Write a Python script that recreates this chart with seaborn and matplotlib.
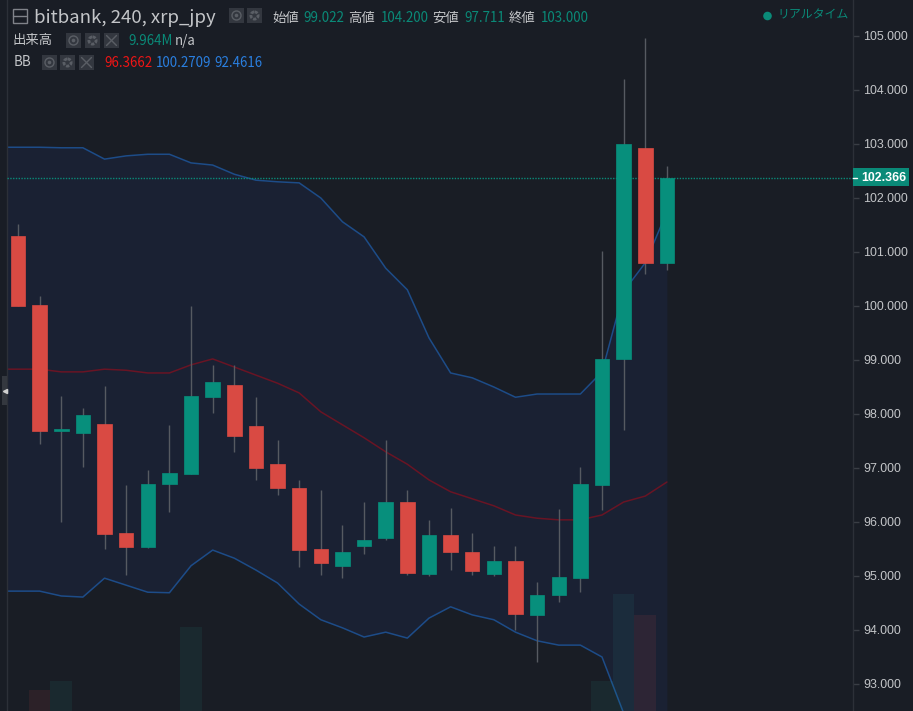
import numpy as np
import pandas as pd
import seaborn as sns
import matplotlib.pyplot as plt
from matplotlib.patches import Rectangle, Circle

# candles
opens = [101.30, 100.02, 97.69, 97.65, 97.81, 95.80, 95.54, 96.70, 96.89, 98.31, 98.54,
         97.78, 97.07, 96.63, 95.50, 95.19, 95.56, 95.70, 96.37, 95.04, 95.76, 95.44,
         95.04, 95.28, 94.28, 94.65, 94.96, 96.69, 99.022, 102.93, 100.80]
closes = [100.00, 97.69, 97.71, 97.98, 95.78, 95.54, 96.70, 96.91, 98.33, 98.59, 97.59,
          97.00, 96.63, 95.48, 95.24, 95.44, 95.67, 96.37, 95.06, 95.76, 95.44, 95.09,
          95.28, 94.30, 94.65, 94.98, 96.70, 99.02, 103.00, 100.80, 102.366]
highs = [101.52, 100.19, 98.33, 98.11, 98.52, 96.69, 96.96, 97.80, 100.00, 98.91, 98.91,
         98.31, 97.52, 96.78, 96.59, 95.94, 96.37, 97.52, 96.59, 96.04, 96.26, 95.80,
         95.56, 95.56, 94.89, 96.24, 97.02, 101.02, 104.20, 104.96, 102.60]
lows = [100.00, 97.44, 96.00, 97.02, 95.50, 95.02, 95.52, 96.19, 96.89, 98.02, 97.30,
        96.78, 96.50, 95.17, 95.02, 94.96, 95.41, 95.67, 95.02, 95.00, 95.11, 95.02,
        95.00, 94.00, 93.41, 94.52, 94.70, 96.22, 97.711, 100.60, 100.67]

# bollinger bands, first point sits left of the visible area
bb_index = list(range(-1, 31))
bb_upper = [102.94, 102.94, 102.94, 102.93, 102.93, 102.72, 102.78, 102.81, 102.81, 102.65, 102.61,
            102.44, 102.33, 102.30, 102.28, 102.00, 101.56, 101.28, 100.70, 100.30, 99.41, 98.76,
            98.67, 98.50, 98.31, 98.37, 98.37, 98.37, 98.78, 100.27, 100.80, 101.74]
bb_mid = [98.83, 98.83, 98.83, 98.78, 98.78, 98.83, 98.81, 98.76, 98.76, 98.91, 99.02,
          98.87, 98.72, 98.57, 98.39, 98.04, 97.80, 97.56, 97.30, 97.07, 96.78, 96.56,
          96.43, 96.30, 96.13, 96.07, 96.04, 96.04, 96.13, 96.37, 96.48, 96.74]
bb_lower = [94.72, 94.72, 94.72, 94.63, 94.61, 94.96, 94.83, 94.70, 94.69, 95.19, 95.48,
            95.33, 95.11, 94.87, 94.48, 94.19, 94.04, 93.87, 93.96, 93.85, 94.22, 94.43,
            94.28, 94.19, 93.96, 93.80, 93.72, 93.72, 93.50, 92.46, 92.16, 91.74]

# only the volume bars that reach into the picture
vol_index = [1, 2, 8, 27, 28, 29]
vol_values = [3.87, 4.44, 7.87, 4.44, 9.964, 8.63]
vol_dir = ["down", "up", "up", "up", "up", "down"]

price_ticks = [93, 94, 95, 96, 97, 98, 99, 100, 101, 102, 103, 104, 105]
last_price = 102.366

BG = "#191d25"
BAND = "#1a2133"
GREEN = "#078f7c"
RED = "#d94a43"
WICK = "#565a61"
BLUE_LINE = "#1d4c88"
RED_LINE = "#691424"
GREY = "#c3c5c8"
TEAL = "#0a8a78"
ICON = "#33373f"

sns.set_theme(style="dark")
plt.rcParams["font.family"] = ["Noto Sans CJK JP", "DejaVu Sans"]

candles = pd.DataFrame({"open": opens, "close": closes, "high": highs, "low": lows})
candles["x"] = candles.index
bands = pd.DataFrame({"x": bb_index, "upper": bb_upper, "mid": bb_mid, "lower": bb_lower})
volume = pd.DataFrame({"x": vol_index, "vol": vol_values, "dir": vol_dir})

fig = plt.figure(figsize=(9.13, 7.11), dpi=100, facecolor=BG)
ax = fig.add_axes([7 / 913, 0, 846 / 913, 1], facecolor=BG)

ax.fill_between(bands["x"], bands["lower"], bands["upper"], color=BAND, lw=0, zorder=1)
sns.lineplot(data=bands, x="x", y="upper", color=BLUE_LINE, lw=1.1, ax=ax, zorder=2)
sns.lineplot(data=bands, x="x", y="lower", color=BLUE_LINE, lw=1.1, ax=ax, zorder=2)
sns.lineplot(data=bands, x="x", y="mid", color=RED_LINE, lw=1.1, ax=ax, zorder=2)

ax.axhline(last_price, color=TEAL, lw=1, ls=(0, (1, 1)), zorder=3)

colors = [GREEN if c >= o else RED for o, c in zip(candles["open"], candles["close"])]
ax.vlines(candles["x"], candles["low"], candles["high"], color=WICK, lw=1, zorder=4)
body_low = candles[["open", "close"]].min(axis=1)
body_h = (candles["close"] - candles["open"]).abs().clip(lower=0.04)
ax.bar(candles["x"], body_h, bottom=body_low, width=0.67, color=colors, edgecolor=colors,
       lw=0.5, zorder=5)

ax.set_xlim((7 - 18) / 21.63, (853 - 18) / 21.63)
ax.set_ylim(105 - 675 / 54, 105 + 36 / 54)

# volume sits on its own scale, its baseline is below the picture
vol_ax = ax.twinx()
sns.barplot(data=volume, x="x", y="vol", hue="dir", palette={"up": "#26a69a", "down": "#ef5350"},
            native_scale=True, dodge=False, width=1, errorbar=None, alpha=0.09, legend=False,
            saturation=1, linewidth=0, edgecolor="none", ax=vol_ax)
vol_ax.set_xlim(ax.get_xlim())
vol_ax.set_ylim(2.54, 2.54 + 711 * 0.0635)
vol_ax.set_yticks([])
vol_ax.set_xticks([])
vol_ax.set_xlabel("")
vol_ax.set_ylabel("")
vol_ax.patch.set_visible(False)
for sp in vol_ax.spines.values():
    sp.set_visible(False)

# twinx moves the ticks back to the left, so set them up afterwards
ax.set_xticks([])
ax.set_xlabel("")
ax.set_ylabel("")
ax.yaxis.tick_right()
ax.set_yticks(price_ticks)
ax.set_yticklabels([f"{t:.3f}" for t in price_ticks], family="Liberation Sans", fontsize=8.9, color=GREY)
ax.tick_params(axis="y", length=4, width=1, color="#3a3e45", pad=3.5, right=True, left=False)
ax.grid(False)
for name, sp in ax.spines.items():
    sp.set_visible(name in ("left", "right"))
    sp.set_color("#2c3038")
    sp.set_linewidth(1)

# header, buttons and price tag in pixel coordinates
ov = fig.add_axes([0, 0, 1, 1], facecolor="none")
ov.set_xlim(0, 913)
ov.set_ylim(711, 0)
ov.axis("off")


def label(x, y, s, color=GREY, size=9.6, **kw):
    ov.text(x, y, s, color=color, fontsize=size, va="center", ha="left", **kw)


def button(x, y, kind):
    ov.add_patch(Rectangle((x, y), 15, 15, color=ICON, lw=0))
    cx, cy = x + 7.5, y + 7.5
    if kind == "x":
        ov.plot([cx - 5, cx + 5], [cy - 5, cy + 5], color="#5a5e65", lw=1)
        ov.plot([cx - 5, cx + 5], [cy + 5, cy - 5], color="#5a5e65", lw=1)
    elif kind == "eye":
        ov.add_patch(Circle((cx, cy), 4.5, fill=False, ec="#5a5e65", lw=1))
        ov.add_patch(Circle((cx, cy), 1.8, color="#5a5e65", lw=0))
    else:
        ov.add_patch(Circle((cx, cy), 3.6, fill=False, ec="#5a5e65", lw=2, ls=(0, (1.2, 0.5))))


ov.add_patch(Rectangle((12.5, 8.5), 14, 14, fill=False, ec="#80838a", lw=1))
ov.plot([13, 26], [15.5, 15.5], color="#80838a", lw=1)
label(34, 18, "bitbank, 240, xrp_jpy", size=13.4)
button(229, 8, "eye")
button(247, 8, "gear")
for x, s in [(272, "始値"), (348, "高値"), (432, "安値"), (509, "終値")]:
    label(x, 18, s)
for x, s in [(303, "99.022"), (381, "104.200"), (464, "97.711"), (541, "103.000")]:
    label(x, 18, s, color=TEAL)

label(13, 40, "出来高")
button(66, 33, "eye")
button(85, 33, "gear")
button(104, 33, "x")
label(128, 41, "9.964M", color=TEAL)
label(175, 41, "n/a")

label(14, 62, "BB")
button(42, 55, "eye")
button(60, 55, "gear")
button(79, 55, "x")
label(104, 63, "96.3662", color="#f01515")
label(156, 63, "100.2709", color="#2a7fe0")
label(214, 63, "92.4616", color="#2a7fe0")

ov.add_patch(Circle((767.5, 16), 4.3, color=TEAL, lw=0))
label(777, 15, "リアルタイム", color=TEAL, size=8.6)

ov.add_patch(Rectangle((853, 168), 56, 18, color=TEAL, lw=0))
ov.plot([853, 857], [178, 178], color="white", lw=1)
ov.text(861, 178, f"{last_price:.3f}", color="white", fontsize=8.9, va="center", ha="left",
        family="Liberation Sans", fontweight="bold")

ov.add_patch(Rectangle((2, 376), 5, 29, color="#34383f", lw=0))
ov.plot([4.5], [390.5], marker="<", ms=3, color="#d0d0d0")
ov.set_xlim(0, 913)
ov.set_ylim(711, 0)

fig.savefig("out.png", dpi=100, facecolor=BG)
plt.close(fig)
